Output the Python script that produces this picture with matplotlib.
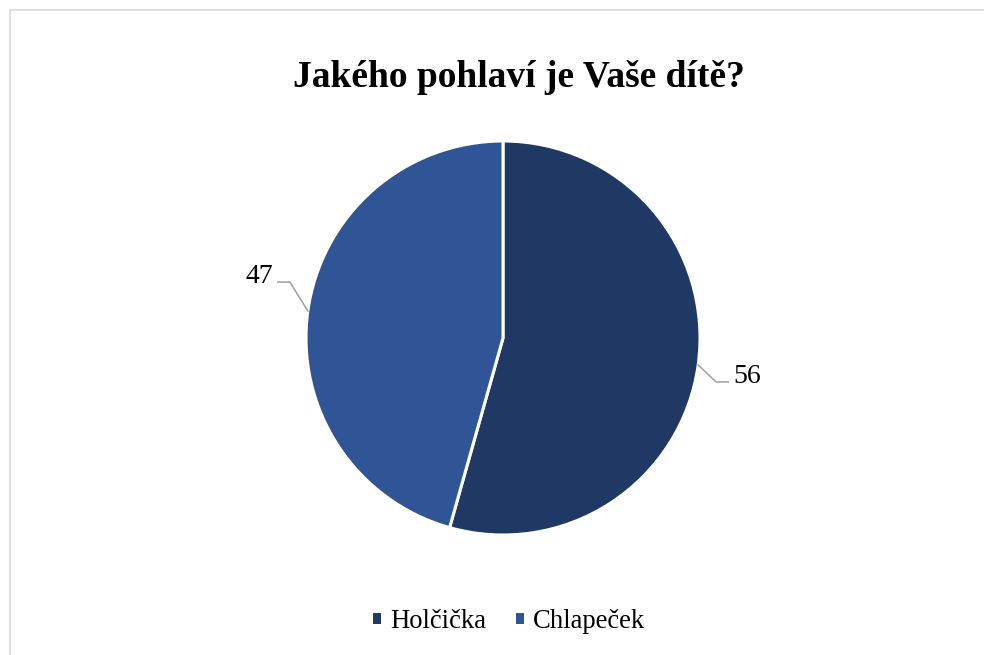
import numpy as np
import matplotlib.pyplot as plt
from matplotlib.patches import Rectangle, Patch

# data
categories = ["Holčička", "Chlapeček"]
counts = [56, 47]
colors = ["#203864", "#2F5597"]
title = "Jakého pohlaví je Vaše dítě?"

plt.rcParams['font.family'] = ['Liberation Serif', 'DejaVu Serif']

W, H = 984, 655
fig = plt.figure(figsize=(W / 100, H / 100), dpi=100)
ax = fig.add_axes([0, 0, 1, 1])

cx, cy, r = 503, H - 338, 197
wedges, _ = ax.pie(counts, colors=colors, startangle=90, counterclock=False,
                   center=(cx, cy), radius=r,
                   wedgeprops=dict(edgecolor='white', linewidth=2.2))
ax.set_xlim(0, W)
ax.set_ylim(0, H)
ax.set_aspect('auto')
ax.axis('off')

# chart border (light gray, only top/left visible in crop)
ax.add_patch(Rectangle((9.5, -20), W + 20, H - 9.5 + 20, fill=False,
                       edgecolor='#d9d9d9', linewidth=1.2, clip_on=False))

# data labels with leader lines
leader = {0: (18, -17, 12), 1: (-18, 29, -12)}
for i, w in enumerate(wedges):
    ang = np.deg2rad((w.theta1 + w.theta2) / 2)
    x0 = cx + r * np.cos(ang)
    y0 = cy + r * np.sin(ang)
    dx, dy, hx = leader[i]
    x1, y1 = x0 + dx, y0 + dy
    x2 = x1 + hx
    ax.plot([x0, x1, x2], [y0, y1, y1], color='#a6a6a6', lw=1.2,
            solid_joinstyle='miter')
    ha = 'left' if hx > 0 else 'right'
    ax.text(x2 + (5 if hx > 0 else -5), y1 - 1, str(counts[i]), ha=ha,
            va='baseline', fontsize=20, color='#000000')

ax.text(519, H - 87, title, ha='center', va='baseline',
        fontsize=27, fontweight='bold', color='black')

# legend
handles = [Patch(facecolor=c, edgecolor='none') for c in colors]
leg = ax.legend(handles, categories, loc='center', bbox_to_anchor=(509 / W, 1 - 622 / H),
                ncol=2, frameon=False, fontsize=19.2, handlelength=0.3,
                handleheight=0.25, handletextpad=0.34, columnspacing=1.1)

fig.savefig('out.png', dpi=100)
